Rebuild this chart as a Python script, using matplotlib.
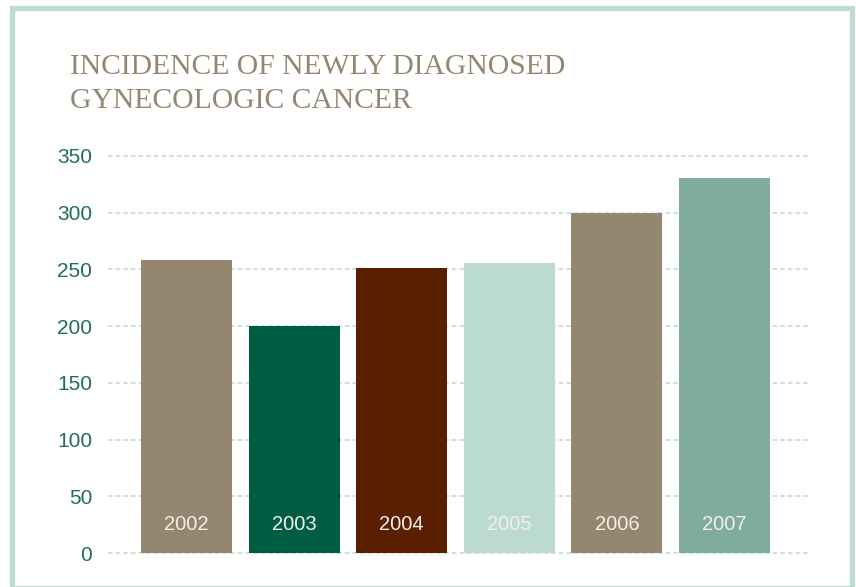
import matplotlib
matplotlib.use("Agg")
import matplotlib.pyplot as plt
from matplotlib.patches import Rectangle

years = ["2002", "2003", "2004", "2005", "2006", "2007"]
cases = [258, 200, 251, 256, 300, 331]
bar_colors = ["#94866f", "#005c42", "#5a1f00", "#bbdbd0", "#94866f", "#80ac9f"]
yticks = [0, 50, 100, 150, 200, 250, 300, 350]
title_lines = ["INCIDENCE OF NEWLY DIAGNOSED", "GYNECOLOGIC CANCER"]

fig = plt.figure(figsize=(8.56, 5.87), dpi=100)
fig.patch.set_facecolor("white")

# frame around the whole panel
fig.patches.append(Rectangle((0.0146, -0.001), 0.9807, 0.9882, transform=fig.transFigure,
                             fill=False, edgecolor="#bcdcd0", linewidth=3.8))

ax = fig.add_axes([0.1262, 0.0521, 0.8189, 0.688])
x = list(range(len(years)))
ax.bar(x, cases, width=0.845, color=bar_colors, zorder=3)
for xi, yr in zip(x, years):
    ax.text(xi, 25, yr, ha="center", va="center", color="#f2efe9",
            fontsize=14.5, family="Liberation Sans", zorder=4)

ax.set_xlim(-0.73, 5.785)
ax.set_ylim(-3, 353)
ax.set_yticks(yticks)
ax.set_xticks([])
ax.yaxis.grid(True, color="#bcdcd0", linestyle=(0, (3, 2)), linewidth=1.1, zorder=0)
ax.tick_params(axis="y", length=0, pad=11.5, labelcolor="#1f6e56", labelsize=15)
for lbl in ax.get_yticklabels():
    lbl.set_family("Liberation Sans")
for s in ax.spines.values():
    s.set_visible(False)

for i, line in enumerate(title_lines):
    fig.text(0.0818, 1 - (74 + 34 * i) / 587, line, ha="left", va="baseline",
             color="#958670", fontsize=21.3, family="Liberation Serif")

fig.savefig("out.png", dpi=100)
